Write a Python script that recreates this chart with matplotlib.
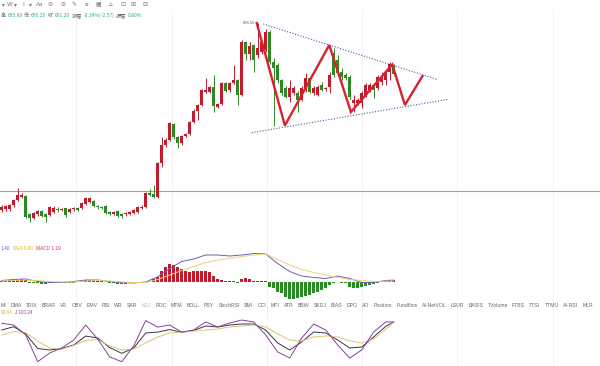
import numpy as np
import matplotlib.pyplot as plt

plt.rcParams['font.family'] = ['Liberation Sans', 'Noto Sans CJK SC', 'DejaVu Sans']

W, H = 600, 366

# ---- candles (one per bar, bar index = position) ----
opens = [583.0, 583.35, 583.35, 585.5, 588.0, 589.5, 590.0, 580.85, 579.15, 580.85,
         582.5, 581.0, 580.5, 582.15, 583.5, 583.0, 583.85, 581.85, 583.35, 583.85,
         583.85, 585.85, 587.15, 587.5, 585.0, 584.65, 585.0, 581.85, 580.85, 582.5,
         580.85, 580.85, 580.85, 581.35, 582.15, 584.15, 584.65, 591.35, 590.85, 589.65,
         606.35, 615.5, 618.0, 626.0, 619.35, 616.35, 620.25, 621.0, 626.85, 632.65,
         635.5, 642.15, 642.15, 644.35, 634.65, 636.0, 646.35, 643.0, 646.65, 648.0,
         640.5, 667.15, 661.0, 665.5, 660.5, 662.0, 663.0, 672.15, 657.0, 655.5,
         648.0, 644.0, 639.5, 641.5, 641.5, 638.0, 643.0, 649.0, 641.5, 640.5,
         645.5, 643.5, 644.65, 661.5, 658.0, 652.15, 650.5, 649.5, 636.35, 636.35,
         636.35, 640.5, 643.0, 645.5, 643.85, 647.15, 648.0, 652.0, 653.8]
highs = [585.5, 585.75, 586.25, 588.75, 594.15, 591.5, 590.5, 581.5, 582.0, 583.0,
         583.0, 581.5, 585.25, 585.0, 584.5, 584.25, 584.25, 584.0, 584.5, 584.5,
         587.0, 589.65, 589.5, 588.0, 585.75, 585.25, 585.5, 582.5, 582.5, 583.0,
         581.5, 582.0, 582.75, 583.5, 585.25, 585.5, 592.0, 593.5, 595.5, 607.0,
         619.65, 619.0, 627.0, 626.5, 620.0, 620.5, 621.75, 627.5, 633.5, 636.0,
         643.75, 648.85, 645.0, 650.5, 636.5, 647.0, 647.0, 647.25, 655.5, 648.5,
         668.0, 667.75, 667.0, 666.0, 676.55, 668.0, 673.5, 673.0, 659.0, 656.5,
         648.5, 645.0, 648.0, 645.0, 642.5, 645.0, 651.35, 649.5, 645.0, 645.5,
         647.15, 644.75, 652.15, 664.0, 660.5, 654.0, 651.5, 650.5, 640.5, 639.0,
         642.5, 646.5, 646.5, 646.5, 650.5, 652.15, 653.0, 657.0, 655.9]
lows = [582.25, 582.75, 582.75, 584.75, 587.5, 589.0, 579.0, 577.0, 578.5, 580.25,
        579.5, 577.15, 580.0, 581.75, 582.25, 582.5, 579.75, 581.5, 582.75, 582.5,
        583.5, 585.5, 586.5, 584.5, 583.75, 583.5, 581.0, 580.5, 580.5, 579.75,
        578.85, 580.25, 580.5, 581.0, 581.75, 583.75, 584.25, 590.0, 589.25, 589.25,
        604.65, 614.5, 617.5, 618.75, 613.85, 615.75, 619.5, 620.5, 626.5, 628.0,
        635.0, 641.5, 641.5, 632.15, 634.0, 635.5, 642.0, 642.25, 646.0, 635.5,
        640.0, 658.0, 658.0, 652.15, 659.0, 661.0, 662.0, 656.0, 625.0, 646.5,
        640.5, 639.0, 637.15, 640.5, 632.15, 637.5, 642.0, 641.5, 640.5, 640.0,
        642.5, 642.75, 641.35, 649.5, 650.5, 648.0, 648.0, 638.5, 632.15, 635.5,
        634.0, 639.5, 642.0, 638.85, 643.0, 645.5, 645.5, 648.0, 650.25]
closes = [584.65, 585.0, 585.5, 588.0, 590.5, 590.5, 579.35, 579.15, 581.35, 582.5,
          580.15, 579.65, 584.65, 584.15, 583.0, 583.65, 580.5, 583.35, 583.85, 583.15,
          586.35, 588.85, 589.0, 585.15, 584.35, 583.85, 581.35, 581.15, 581.85, 580.15,
          580.15, 581.35, 582.15, 583.0, 584.65, 584.65, 591.35, 590.5, 589.65, 606.35,
          615.5, 618.0, 626.35, 619.35, 616.35, 620.0, 621.0, 626.85, 632.65, 635.5,
          643.0, 643.0, 644.35, 635.0, 636.0, 646.35, 642.65, 646.65, 648.0, 640.5,
          667.15, 661.0, 665.0, 658.0, 664.0, 667.0, 672.15, 657.0, 654.0, 648.0,
          641.35, 639.65, 644.0, 644.0, 638.0, 644.0, 649.0, 642.15, 644.0, 644.65,
          643.0, 644.0, 650.5, 650.5, 651.5, 649.65, 649.0, 639.5, 638.0, 638.0,
          641.5, 645.5, 645.5, 643.0, 649.65, 649.65, 652.15, 656.0, 651.2]

support_level = 592.5
high_label = "676.55"
high_bar = 64

# hand-drawn pattern (bar index, price)
zigzag_bar = [63.75, 70.8, 81.9, 87.3, 97.65, 100.8, 105.2]
zigzag_price = [676.5, 625.25, 665.5, 632.0, 655.75, 635.5, 650.0]
upper_bar = [65.4, 108.75]
upper_price = [676.0, 648.35]
lower_bar = [62.5, 111.65]
lower_price = [621.65, 638.35]

# ---- MACD ----
macd_hist = [1, 1, 1.3, 1.7, 2, 2.7, 2, -1.3, -1.7, -1.7,
             -2, -2, -1.7, -1.3, -1.3, -1.3, -1.3, -1.3, -1, -0.7,
             0.3, 1.3, 1.7, 1.7, 1.3, 1, -0.7, -1.3, -1.7, -2,
             -2, -2, -1.7, -1.3, -1, -0.7, -0.3, 1, 2.3, 5,
             11, 15, 17.7, 16.7, 14.3, 12.3, 11, 10, 11, 11,
             11, 11, 10, 5.7, 2.3, 1.7, 1, 0.7, 0.2, -1,
             2.3, 3.3, 2.3, 1, 0.7, 1, 0.2, -5, -6.7, -10,
             -11.7, -15, -17.3, -17.3, -16.7, -15.7, -14.3, -13.3, -11.7, -10,
             -8.3, -6.7, -3.3, -1, -0.3, -1, -1.7, -5, -6.7, -6.7,
             -5, -4.3, -3.3, -2.3, -1.7, 0.2, 1, 1.7, 1.19]
line_bar = [0, 3, 6, 9, 12, 15, 18, 21, 24, 27, 30, 33, 36, 39, 42, 45, 48,
            51, 54, 57, 60, 63, 66, 69, 72, 75, 78, 81, 84, 87, 90, 93, 96, 98]
dif = [1, 2, 2.5, 0, -1, -1, 0, 1.5, 1.5, 0, -1, -1.5, -0.5, 4.8, 13, 20, 22.5,
       26.5, 26.5, 25.5, 26.5, 28, 27.5, 18, 10, 5.5, 4, 3, 5.5, 3, -1, -1, 1, 1.4]
dea = [0.5, 1, 1.5, 1, 0, -0.5, -0.5, 0.5, 1, 0.5, -0.5, -1, -1, 2, 6.5, 11, 15,
       19, 21.5, 23, 25, 26.5, 27.5, 22, 16.5, 12, 9, 6.5, 4, 2, 1, 0, 0.3, 0.6]

# ---- KDJ ----
kdj_k = [77.8, 87, 66.7, 26.4, 22.2, 26.4, 36, 61, 55.6, 29, 13, 27.8, 69.5, 72, 79, 71.5, 76.5,
         89, 86.2, 91.7, 94.5, 94.5, 77.8, 41.7, 22.2, 44.5, 72.3, 69.5, 50, 27.8, 30.6, 58.4, 88, 99.84]
kdj_d = [64, 73.7, 71, 47, 27.8, 24.2, 34.8, 48.7, 51.4, 33.4, 22.2, 25, 41.7, 58.4, 69.5, 72.3, 75,
         77.8, 80.6, 86.2, 89, 91.7, 86.2, 66.7, 50, 47.3, 58.4, 61.2, 58.4, 47.3, 41.7, 52.8, 80, 99.64]
kdj_j = [96.5, 91.7, 64, -10.3, 14, 27.8, 50, 91.7, 52.8, 2.8, -10.3, 33.4, 104, 86, 91.7, 72, 78,
         100.1, 86.2, 97.3, 105.6, 100.1, 63.9, 16.7, 0, 55.6, 94.5, 77.8, 36.1, 0, 22.2, 72.3, 100.1, 100.24]

tabs = ["MI", "DMA", "TRIX", "BRAR", "VR", "OBV", "EMV", "RSI", "WR", "SAR", "KDJ",
        "ROC", "MTM", "BOLL", "PSY", "StochRSI", "SMI", "CCI", "MFI", "ATR", "BBW",
        "SKDJ", "BIAS", "DPO", "AO", "Position", "Fundflow", "AI-NetVOL", "LSUR",
        "BASIS", "TVolume", "FTBS", "TTSI", "TTMU", "AI-RSI", "MLR"]

RED = "#c41a2c"
GREEN = "#2a8a24"
UP_TXT = "#26a69a"
CJK = ["Noto Sans CJK SC", "DejaVu Sans"]

fig = plt.figure(figsize=(6, 3.66), dpi=100)
fig.patch.set_facecolor("white")
XL = (-0.425, 149.575)


def band(top, bottom):
    ax = fig.add_axes([0, 1 - bottom / H, 1, (bottom - top) / H])
    ax.set_xlim(*XL)
    ax.axis("off")
    return ax


# grid columns
for gx in [76, 171.5, 267, 362, 457, 552.5]:
    fig.add_artist(plt.Line2D([gx / W, gx / W], [0, 1 - 10 / H], color="#f0f0f0", lw=0.6, zorder=0))

# ---- price panel ----
ax = band(20, 240)
ax.set_ylim(688 - 240 / 2, 688 - 20 / 2)
o = np.array(opens); c = np.array(closes); hi = np.array(highs); lo = np.array(lows)
idx = np.arange(len(o))
cols = np.where(c >= o, RED, GREEN)
ax.vlines(idx, lo, hi, colors=cols, lw=0.7, zorder=2)
body = np.maximum(np.abs(c - o), 0.4)
ax.bar(idx, body, bottom=np.minimum(o, c), width=0.74, color=cols, zorder=3)
ax.axhline(support_level, color="#8db86b", lw=0.8, zorder=1)
ax.plot(zigzag_bar, zigzag_price, color="#d9202e", lw=1.7, zorder=4, solid_joinstyle="miter")
ax.plot(upper_bar, upper_price, color="#4b5ba0", lw=0.8, ls=(0, (1, 1.5)), zorder=4)
ax.plot(lower_bar, lower_price, color="#4b5ba0", lw=0.8, ls=(0, (1, 1.5)), zorder=4)
ax.text(high_bar - 0.6, highs[high_bar] + 0.2, high_label, fontsize=2.9, color="#555555",
        ha="right", va="center")

# ---- MACD panel ----
am = band(252, 302)
am.set_ylim(281.5 - 302, 281.5 - 252)
mh = np.array(macd_hist)
am.bar(np.arange(len(mh)), mh, width=0.75, color=np.where(mh >= 0, RED, GREEN), zorder=2)
am.plot(line_bar, dif, color="#6b5fb8", lw=0.7, zorder=3)
am.plot(line_bar, dea, color="#efcf7a", lw=0.7, zorder=3)

# ---- KDJ panel ----
ak = band(314, 366)
ak.set_ylim((358 - 366) * 2.78, (358 - 314) * 2.78)
ak.plot(line_bar, kdj_k, color="#3c3346", lw=0.7)
ak.plot(line_bar, kdj_d, color="#d8c674", lw=0.7)
ak.plot(line_bar, kdj_j, color="#8a3f97", lw=0.7)

rend = fig.canvas.get_renderer()


def put(x, y, s, size, color, ha="left", family=None):
    kw = {"family": family} if family else {}
    t = fig.text(x / W, 1 - y / H, s, fontsize=size, color=color, ha=ha, va="center", **kw)
    return t.get_window_extent(rend).width


def row(x, y, parts, size, gap, family=None):
    for s, col in parts:
        x += put(x, y, s, size, col, family=family) + gap
    return x


# toolbar
tool = ["▾", "W", "▾", "Ⅰ", "▾", "Aa", "⊘", "⊘", "✎", "⌀", "▦", "⌂", "⊡", "⊞", "⊟"]
tx = [3, 9.5, 15, 23, 30, 40, 50, 63, 74, 87, 98, 110, 123, 133, 145]
for s, x in zip(tool, tx):
    put(x, 4.5, s, 4.2, "#777777", ha="center", family=["DejaVu Sans"])

# info line
row(0.5, 15.5, [("高", "#666666"), ("655.90", UP_TXT), ("低", "#666666"), ("650.25", UP_TXT),
                ("收", "#666666"), ("651.20", UP_TXT), ("涨幅", "#666666"),
                ("-0.39%(-2.57)", UP_TXT), ("振幅", "#666666"), ("0.80%", UP_TXT)], 3.6, 1.8,
    family=CJK)

# MACD legend
row(0.5, 248.3, [("1.40", "#6b5fb8"), ("DEA 0.60", "#e0b800"), ("MACD 1.19", "#d0344f")], 3.4, 3.5)

# KDJ legend
row(0.5, 312.5, [("99.64", "#c9b34a"), ("J 100.24", "#8a3f97")], 3.3, 2.5)

# indicator tabs
size = 3.7
widths = []
for s in tabs:
    t = fig.text(0, 0, s, fontsize=size)
    widths.append(t.get_window_extent(rend).width)
    t.remove()
x0 = 0.5
gap = (593 - x0 - sum(widths)) / (len(tabs) - 1)
x = x0
for s, wd in zip(tabs, widths):
    put(x, 305.5, s, size, "#bbbbbb" if s == "KDJ" else "#666666")
    x += wd + gap

fig.savefig("out.png", dpi=100)
